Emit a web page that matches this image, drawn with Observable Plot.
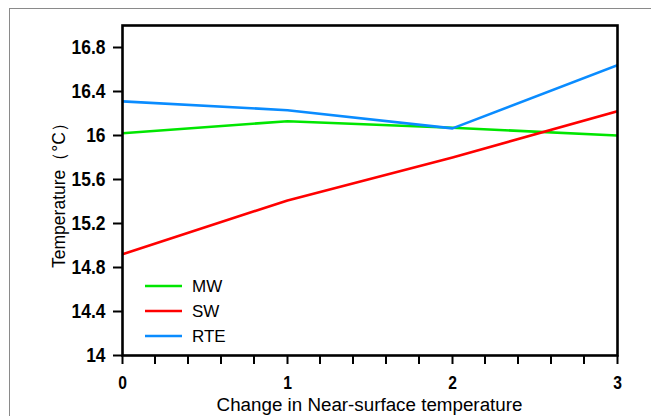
<!DOCTYPE html>
<html>
<head>
<meta charset="utf-8">
<script src="https://cdn.jsdelivr.net/npm/d3@7"></script>
<script src="https://cdn.jsdelivr.net/npm/@observablehq/plot@0.6"></script>
<style>
  html, body { margin: 0; padding: 0; background: #fff; overflow: hidden; }
  #wrap { position: relative; width: 651px; height: 416px; }
  #border { position: absolute; left: 9px; top: 8px; right: -5px; bottom: -5px;
            border-top: 1.5px solid #8a8a8a; border-left: 1.5px solid #8a8a8a; pointer-events: none; }
  #overlay { position: absolute; left: 0; top: 0; pointer-events: none; }
</style>
</head>
<body>
<div id="wrap"><div id="border"></div></div>
<script>
const xValues = [0, 1, 2, 3];
const seriesNames = ["MW", "SW", "RTE"];
const seriesColors = ["#00e600", "#ff0000", "#0a8cff"];
const mwValues = [16.02, 16.13, 16.07, 16.00];
const swValues = [14.92, 15.41, 15.80, 16.22];
const rteValues = [16.31, 16.23, 16.065, 16.64];
const yTicks = [14, 14.4, 14.8, 15.2, 15.6, 16, 16.4, 16.8];
const xTicks = [0, 1, 2, 3];
const xMinorTicks = [0.2, 0.4, 0.6, 0.8, 1.2, 1.4, 1.6, 1.8, 2.2, 2.4, 2.6, 2.8];
const yLabel = "Temperature（°C）";
const xLabel = "Change in Near-surface temperature";

const seriesValues = [mwValues, swValues, rteValues];
const data = [];
seriesNames.forEach((name, i) => {
  xValues.forEach((x, j) => data.push({series: name, x, y: seriesValues[i][j]}));
});

const W = 651, H = 416;
const mL = 122, mR = 34, mT = 25, mB = 61;
const tickFont = "'Liberation Sans', Arial, sans-serif";

const chart = Plot.plot({
  width: W, height: H,
  marginLeft: mL, marginRight: mR, marginTop: mT, marginBottom: mB,
  x: {domain: [0, 3]},
  y: {domain: [14, 17]},
  color: {domain: seriesNames, range: seriesColors},
  style: {fontFamily: "Liberation Sans, Arial, sans-serif", background: "transparent", overflow: "visible"},
  marks: [
    Plot.line(data, {x: "x", y: "y", stroke: "series", strokeWidth: 2.6, clip: true}),
    Plot.axisY({ticks: yTicks, tickSize: 9, tickPadding: 8, tickFormat: d => String(d),
      stroke: "#000", strokeWidth: 2, label: null}),
    Plot.axisX({ticks: xTicks, tickSize: 9, tickPadding: 11.5, tickFormat: d => String(d),
      stroke: "#000", strokeWidth: 2, label: null}),
    Plot.frame({stroke: "#000", strokeWidth: 2.6})
  ]
});
document.getElementById("wrap").appendChild(chart);

const svg = d3.select(chart);
function styleTicks(sel, size) {
  svg.selectAll(`[aria-label="${sel}"]`)
    .attr("font-family", tickFont).attr("font-weight", "bold").attr("font-size", size).attr("fill", "#000");
  svg.selectAll(`[aria-label="${sel}"] text`)
    .style("font-family", tickFont).style("font-weight", "bold").style("font-size", size + "px")
    .each(function() {
      const len = this.getComputedTextLength();
      if (len > 0) {
        this.setAttribute("textLength", (len * 0.87).toFixed(2));
        this.setAttribute("lengthAdjust", "spacingAndGlyphs");
      }
    });
}
styleTicks("y-axis tick label", 20);
styleTicks("x-axis tick label", 18);

// minor ticks below the axis line
const sx = chart.scale("x");
const y0 = H - mB;
const minorG = svg.append("g").attr("stroke", "#000").attr("stroke-width", 2);
xMinorTicks.forEach(t => {
  minorG.append("line").attr("x1", sx.apply(t)).attr("x2", sx.apply(t)).attr("y1", y0).attr("y2", y0 + 9);
});

// overlay: axis titles and legend
const ov = d3.select("#wrap").append("svg").attr("id", "overlay").attr("width", W).attr("height", H);
ov.append("text")
  .attr("transform", `translate(59,${(mT + (H - mB)) / 2 + 1}) rotate(-90)`)
  .attr("text-anchor", "middle").attr("dy", "0.35em")
  .style("font-family", "Liberation Sans, Arial, sans-serif").style("font-size", "17.5px").style("fill", "#000")
  .text(yLabel);
ov.append("text")
  .attr("x", (mL + (W - mR)) / 2).attr("y", 411)
  .attr("text-anchor", "middle")
  .style("font-family", "'Liberation Sans', Arial, sans-serif").style("font-size", "18.8px").style("fill", "#000")
  .text(xLabel);

const legX = 145, legY = 286, legStep = 25;
seriesNames.forEach((name, i) => {
  const yy = legY + i * legStep;
  ov.append("line").attr("x1", legX).attr("x2", legX + 37).attr("y1", yy).attr("y2", yy)
    .attr("stroke", seriesColors[i]).attr("stroke-width", 2.6);
  ov.append("text").attr("x", legX + 47).attr("y", yy).attr("dy", "0.36em").text(name)
    .style("font-family", "Liberation Sans, Arial, sans-serif").style("font-size", "17px").style("fill", "#000");
});
</script>
</body>
</html>
